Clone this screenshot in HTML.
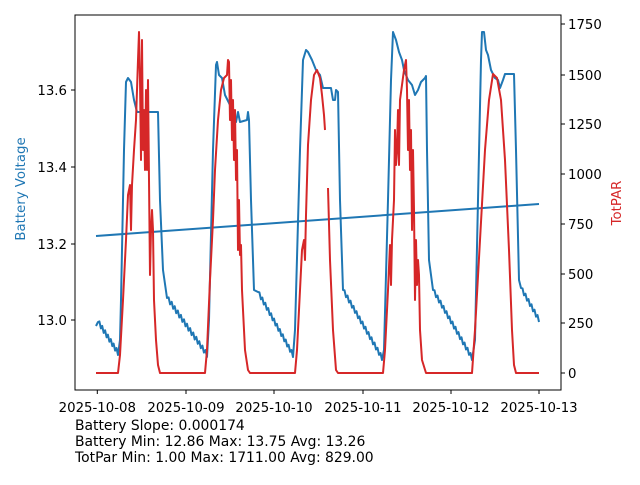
<!DOCTYPE html>
<html><head><meta charset="utf-8"><style>
html,body{margin:0;padding:0;background:#fff;}
svg text{font-family:"DejaVu Sans","Liberation Sans",sans-serif;font-size:13.3px;fill:#000;}
</style></head><body>
<svg id="s" width="640" height="480" viewBox="0 0 640 480" xmlns="http://www.w3.org/2000/svg">
<rect x="0" y="0" width="640" height="480" fill="#fff"/>
<g id="plot"></g>
<rect x="75" y="15" width="486" height="375" fill="none" stroke="#000" stroke-width="1"/>
<g stroke="#000" stroke-width="1">
<line x1="97.3" y1="390" x2="97.3" y2="394"/><line x1="186" y1="390" x2="186" y2="394"/><line x1="274" y1="390" x2="274" y2="394"/><line x1="363" y1="390" x2="363" y2="394"/><line x1="451" y1="390" x2="451" y2="394"/><line x1="539" y1="390" x2="539" y2="394"/>
<line x1="71" y1="320" x2="75" y2="320"/><line x1="71" y1="244" x2="75" y2="244"/><line x1="71" y1="167" x2="75" y2="167"/><line x1="71" y1="90" x2="75" y2="90"/>
<line x1="561" y1="373" x2="565" y2="373"/><line x1="561" y1="323" x2="565" y2="323"/><line x1="561" y1="274" x2="565" y2="274"/><line x1="561" y1="224" x2="565" y2="224"/><line x1="561" y1="174" x2="565" y2="174"/><line x1="561" y1="124" x2="565" y2="124"/><line x1="561" y1="75" x2="565" y2="75"/><line x1="561" y1="24" x2="565" y2="24"/>
</g>
<g text-anchor="middle">
<text x="97.3" y="412">2025-10-08</text><text x="186" y="412">2025-10-09</text><text x="274" y="412">2025-10-10</text><text x="363" y="412">2025-10-11</text><text x="451" y="412">2025-10-12</text><text x="539" y="412">2025-10-13</text>
</g>
<g text-anchor="end">
<text x="67" y="325">13.0</text><text x="67" y="249">13.2</text><text x="67" y="172">13.4</text><text x="67" y="95">13.6</text>
</g>
<g>
<text x="568" y="378">0</text><text x="568" y="328">250</text><text x="568" y="279">500</text><text x="568" y="229">750</text><text x="568" y="179">1000</text><text x="568" y="129">1250</text><text x="568" y="80">1500</text><text x="568" y="29">1750</text>
</g>
<text x="25" y="189" text-anchor="middle" transform="rotate(-90 25 189)" style="fill:#1f77b4;font-size:13.3px">Battery Voltage</text>
<text x="621" y="203" text-anchor="middle" transform="rotate(-90 621 203)" style="fill:#d62728;font-size:13.3px">TotPAR</text>
<text x="75" y="430" style="font-size:13.9px">Battery Slope: 0.000174</text>
<text x="75" y="446" style="font-size:13.9px">Battery Min: 12.86 Max: 13.75 Avg: 13.26</text>
<text x="75" y="462" style="font-size:13.9px">TotPar Min: 1.00 Max: 1711.00 Avg: 829.00</text>
</svg>
<script>
function saw(pts,x0,y0,x1,y1){var n=Math.round((x1-x0)/3);for(var i=1;i<=n;i++){var x=x0+(x1-x0)*i/n,y=y0+(y1-y0)*i/n;pts.push([x-1.5,y-5]);pts.push([x,y+2]);}}
var B=[[96,326],[98,322]];saw(B,98,322,118,353);
B.push([120,340],[121,300],[124,150],[126,82],[128,78],[131,82],[134,100],[137,112],[145,112],[146,118],[147,105],[148,112],[158,112],[160,200],[163,270],[167,298]);
saw(B,167,298,207,355);
B.push([209,320],[213,150],[216,65],[217,62],[219,75],[222,78],[225,95],[230,105],[233,112],[236,122],[238,112],[240,122],[247,120],[248,112],[249,120],[251,200],[254,290],[258,292]);
saw(B,258,292,293,355);
B.push([295,330],[300,150],[303,60],[306,50],[308,52],[312,60],[316,70],[320,75],[323,88],[331,88],[333,100],[335,100],[336,90],[338,92],[340,200],[343,290]);
saw(B,343,290,382,358);
B.push([384,350],[388,200],[391,80],[393,32],[396,40],[399,52],[402,60],[404,70],[408,80],[412,85],[415,95],[418,90],[421,82],[425,78],[426,76],[427,150],[429,260],[433,290]);
saw(B,433,290,472,358);
B.push([475,340],[478,200],[481,60],[482,32],[484,32],[486,50],[488,55],[491,70],[495,78],[498,80],[500,88],[503,80],[505,74],[514,74],[516,150],[519,280],[521,288]);
saw(B,521,288,539,320);
var R1=[[96,373],[118,373],[120,355],[123,300],[126,240],[128,195],[130,185],[131,230],[132,185],[134,150],[136,120],[138,60],[139,32],[140,80],[141,160],[142,40],[143,150],[144,110],[145,170],[146,90],[147,170],[148,80],[149,180],[150,275],[151,230],[152,210],[153,230],[154,300],[156,340],[158,365],[160,373],[205,373],[207,350],[210,280],[213,220],[215,170],[218,120],[221,90],[224,78],[227,75],[228,60],[229,62],[230,120],[231,80],[232,140],[233,100],[234,160],[235,110],[236,180],[237,150],[238,250],[239,200],[240,255],[241,245],[242,290],[245,350],[248,370],[250,373],[295,373],[297,350],[300,290],[302,250],[304,240],[305,260],[306,215],[308,145],[311,100],[314,75],[317,70],[320,78],[322,95],[324,115],[325,130]];
var R2=[[328,188],[330,260],[333,330],[336,370],[338,373],[383,373],[385,350],[388,290],[390,245],[391,285],[392,240],[394,200],[395,130],[396,165],[397,150],[398,110],[399,165],[400,100],[402,85],[404,70],[406,60],[407,90],[408,150],[409,100],[410,170],[411,130],[412,230],[413,150],[414,210],[415,300],[416,240],[417,285],[418,260],[419,275],[420,330],[422,360],[426,373],[472,373],[475,330],[480,240],[485,150],[489,100],[493,74],[497,78],[501,100],[505,160],[509,250],[512,330],[514,365],[516,373],[539,373]];
function d(p){return "M"+p.map(function(q){return q[0].toFixed(1)+","+q[1].toFixed(1)}).join("L");}
var g=document.getElementById("plot");
g.innerHTML='<path d="'+d(B)+'" fill="none" stroke="#1f77b4" stroke-width="2" stroke-linejoin="round"/>'+
'<line x1="96" y1="236" x2="539" y2="204" stroke="#1f77b4" stroke-width="2"/>'+
'<path d="'+d(R1)+d(R2)+'" fill="none" stroke="#d62728" stroke-width="2" stroke-linejoin="round"/>';
</script>
</body></html>
